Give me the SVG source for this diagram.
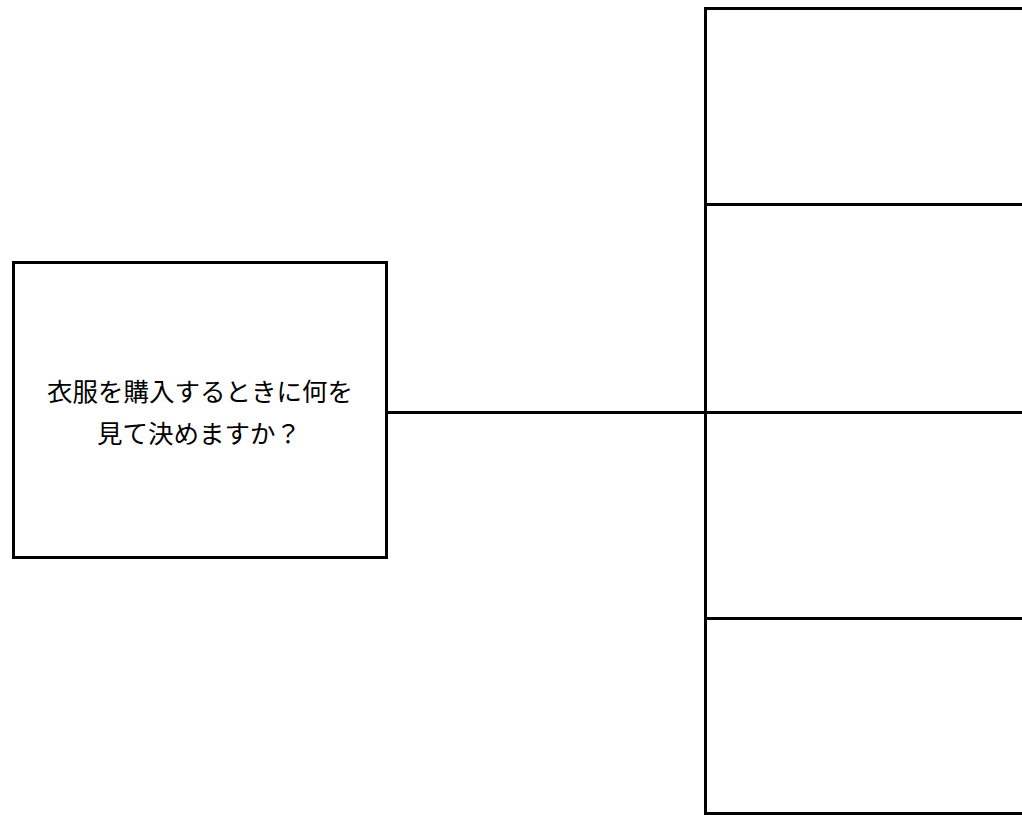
<svg xmlns="http://www.w3.org/2000/svg" width="1022" height="815" viewBox="0 0 1022 815">
<style>
.box{fill:#ffffff;stroke:#000000;stroke-width:3}
.conn{fill:none;stroke:#000000;stroke-width:3}
.lbl{font-family:"Noto Sans CJK JP","Noto Sans CJK SC",sans-serif;font-size:25.5px;fill:#000000;text-anchor:middle;dominant-baseline:central}
</style>
<rect x="0" y="0" width="1022" height="815" fill="#ffffff"/>
<g id="connectors">
<line class="conn" x1="386.5" y1="412.5" x2="705.5" y2="412.5"/>
</g>
<g id="question">
<rect class="box" x="13.5" y="262.5" width="373" height="295"/>
<text class="lbl" x="200" y="389">衣服を購入するときに何を</text>
<text class="lbl" x="199" y="431">見て決めますか？</text>
</g>
<g id="answer1"><rect class="box" x="705.5" y="8.5" width="400" height="196"/></g>
<g id="answer2"><rect class="box" x="705.5" y="204.5" width="400" height="208"/></g>
<g id="answer3"><rect class="box" x="705.5" y="412.5" width="400" height="206"/></g>
<g id="answer4"><rect class="box" x="705.5" y="618.5" width="400" height="195"/></g>
</svg>
